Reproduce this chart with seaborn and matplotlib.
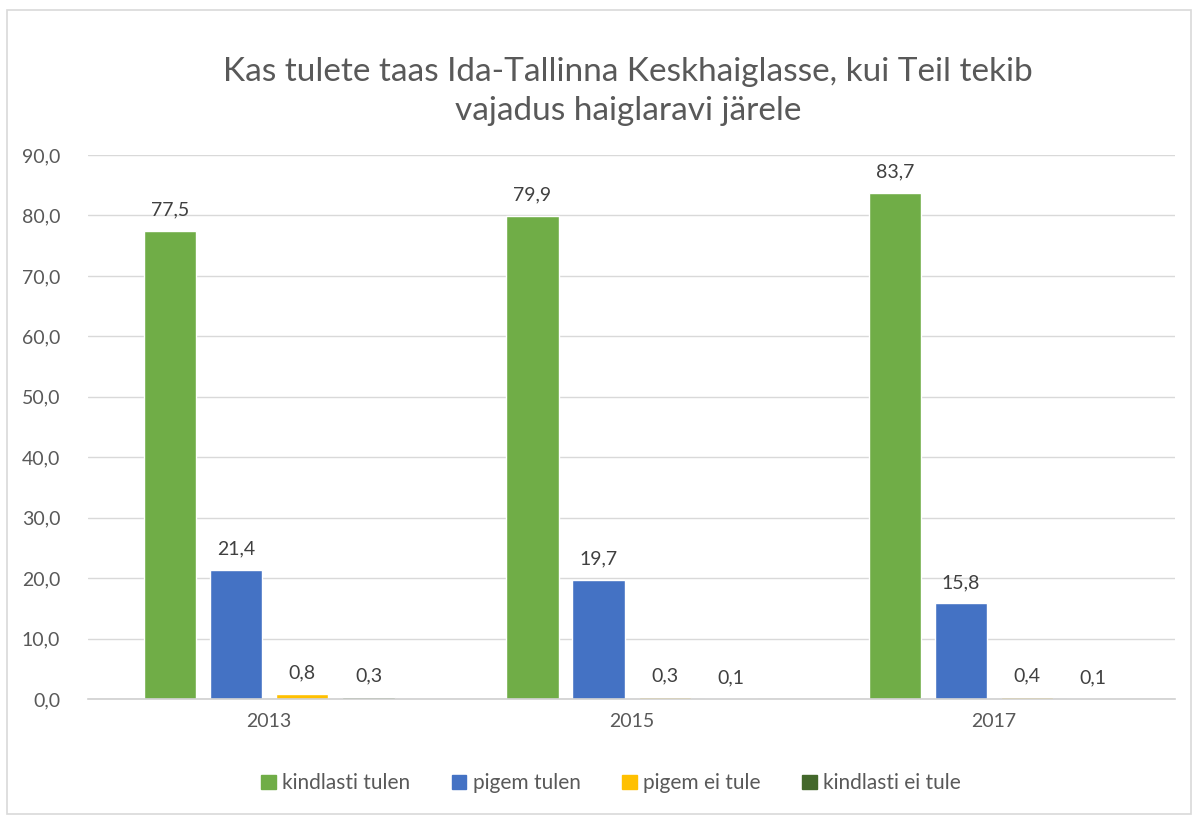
import numpy as np
import pandas as pd
import matplotlib
matplotlib.use('Agg')
import matplotlib.pyplot as plt
import seaborn as sns
from matplotlib.patches import Rectangle

# data
years = ['2013', '2015', '2017']
answers = ['kindlasti tulen', 'pigem tulen', 'pigem ei tule', 'kindlasti ei tule']
kindlasti_tulen = [77.5, 79.9, 83.7]
pigem_tulen = [21.4, 19.7, 15.8]
pigem_ei_tule = [0.8, 0.3, 0.4]
kindlasti_ei_tule = [0.3, 0.1, 0.1]
colors = ['#70AD47', '#4472C4', '#FFC000', '#43682B']

sns.set_theme(style='white')
plt.rcParams['font.family'] = ['Lato', 'DejaVu Sans']

rows = []
for ans, vals in zip(answers, [kindlasti_tulen, pigem_tulen, pigem_ei_tule, kindlasti_ei_tule]):
    for y, v in zip(years, vals):
        rows.append({'year': y, 'answer': ans, 'value': v})
df = pd.DataFrame(rows)

fig = plt.figure(figsize=(11.98, 8.16), dpi=100)
ax = fig.add_axes([0.0735, 0.1434, 0.9075, 0.6666])

sns.barplot(data=df, x='year', y='value', hue='answer', hue_order=answers,
            palette=colors, width=0.73, gap=0.21, ax=ax, legend=True,
            saturation=1, errorbar=None)

for c in ax.containers:
    ax.bar_label(c, labels=[f'{v:.1f}'.replace('.', ',') for v in c.datavalues],
                 padding=9, fontsize=14, color='#404040')

ax.set_ylim(0, 90)
ax.set_yticks(np.arange(0, 91, 10))
ax.set_yticklabels([f'{v:.1f}'.replace('.', ',') for v in np.arange(0, 91, 10)])
ax.tick_params(axis='both', labelsize=14, colors='#595959', length=0)
ax.tick_params(axis='y', pad=20)
ax.tick_params(axis='x', pad=10)
ax.yaxis.grid(True, color='#D9D9D9', linewidth=1)
ax.set_axisbelow(True)
for s in ['left', 'right', 'top']:
    ax.spines[s].set_visible(False)
ax.spines['bottom'].set_color('#D0D0D0')
ax.spines['bottom'].set_linewidth(1.2)
ax.set_xlabel('')
ax.set_ylabel('')

ax.get_legend().remove()
handles = [Rectangle((0, 0), 1, 1, color=c) for c in colors]
fig.legend(handles, answers, loc='center', bbox_to_anchor=(0.51, 0.04), ncol=4,
           frameon=False, fontsize=15, handlelength=0.7, handleheight=0.7,
           handletextpad=0.3, columnspacing=2.0, labelcolor='#595959')

fig.text(0.524, 0.888, 'Kas tulete taas Ida-Tallinna Keskhaiglasse, kui Teil tekib\nvajadus haiglaravi järele',
         ha='center', va='center', fontsize=24, color='#595959', linespacing=1.4)

fig.patches.append(Rectangle((0.006, 0.002), 0.988, 0.986, transform=fig.transFigure,
                             fill=False, edgecolor='#D9D9D9', linewidth=1.2))

fig.savefig('out.png', dpi=100)
